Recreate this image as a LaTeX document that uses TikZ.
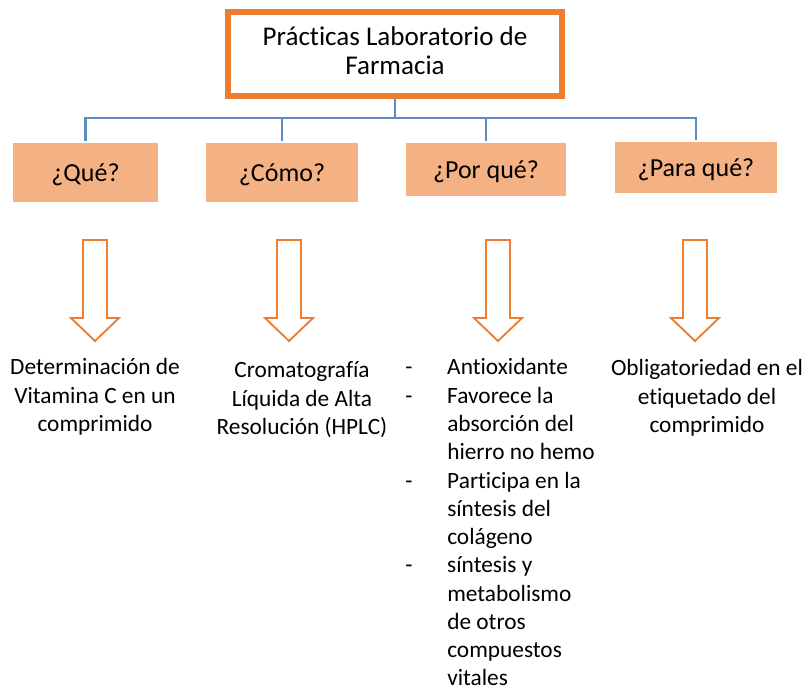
\documentclass[tikz,border=0pt]{standalone}
\usepackage{fontspec}
\setmainfont{Carlito}[Ligatures=NoCommon]
\definecolor{borange}{HTML}{ED7D31}
\definecolor{bfill}{HTML}{F4B183}
\definecolor{cblue}{HTML}{5B8DC4}
\newcommand{\hollowarrow}[2]{%
  \draw[arrowshape] (#1-12,240) -- (#1+12,240) -- (#1+12,318) -- (#1+24,318) -- (#1,341) -- (#1-24,318) -- (#1-12,318) -- cycle;
  \coordinate (#2) at (#1,341);}
\begin{document}
\begin{tikzpicture}[x=0.75pt,y=-0.75pt,
  titlebox/.style={draw=borange,line width=4.5pt,fill=white,minimum width=250.5pt,minimum height=63pt,inner sep=0pt},
  qbox/.style={fill=bfill,draw=none,inner sep=0pt,text height=14.2pt,text depth=0pt,font=\fontsize{19.5}{23}\selectfont},
  conn/.style={draw=cblue,line width=1.6pt},
  arrowshape/.style={draw=borange,line width=1.4pt,fill=white,line join=miter},
  body/.style={inner sep=0pt,anchor=base,font=\fontsize{17.5}{21.2}\selectfont}]
\useasboundingbox (0,0) rectangle (807,691);
\node[titlebox] (title) at (395,54) {\raisebox{-2.25pt}{\fontsize{20.3}{21.75}\selectfont\begin{tabular}{@{}c@{}}Prácticas Laboratorio de\\Farmacia\end{tabular}}};
\node[qbox,minimum width=108.75pt,minimum height=44.25pt] (q1) at (85.5,172.5) {¿Qué?};
\node[qbox,minimum width=114pt,minimum height=44.25pt] (q2) at (282,172.5) {¿Cómo?};
\node[qbox,minimum width=120pt,minimum height=39.75pt] (q3) at (486,169.5) {¿Por qué?};
\node[qbox,minimum width=121.5pt,minimum height=38.25pt] (q4) at (696,167.5) {¿Para qué?};
\coordinate (bar) at (395,118);
\draw[conn] (title.south) -- (bar);
\draw[conn] ([yshift=1.5pt]q1.north) |- (bar) -| ([yshift=1.5pt]q4.north);
\draw[conn] ([yshift=1.5pt]q2.north) -- (q2.north |- bar);
\draw[conn] ([yshift=1.5pt]q3.north) -- (q3.north |- bar);
\hollowarrow{95}{a1}
\hollowarrow{289}{a2}
\hollowarrow{498}{a3}
\hollowarrow{695}{a4}
\node[body] (t1) at (95,375) {\begin{tabular}[t]{@{}c@{}}Determinación de\\Vitamina C en un\\comprimido\end{tabular}};
\node[body] (t2) at (302,378) {\begin{tabular}[t]{@{}c@{}}Cromatografía\\Líquida de Alta\\Resolución (HPLC)\end{tabular}};
\node[body,anchor=base west] (t3) at (405,375) {\begin{tabular}[t]{@{}p{31.5pt}@{}l@{}}-&Antioxidante\\-&Favorece la\\&absorción del\\&hierro no hemo\\-&Participa en la\\&síntesis del\\&colágeno\\-&síntesis y\\&metabolismo\\&de otros\\&compuestos\\&vitales\end{tabular}};
\node[body] (t4) at (707,376) {\begin{tabular}[t]{@{}c@{}}Obligatoriedad en el\\etiquetado del\\comprimido\end{tabular}};
\end{tikzpicture}
\end{document}
